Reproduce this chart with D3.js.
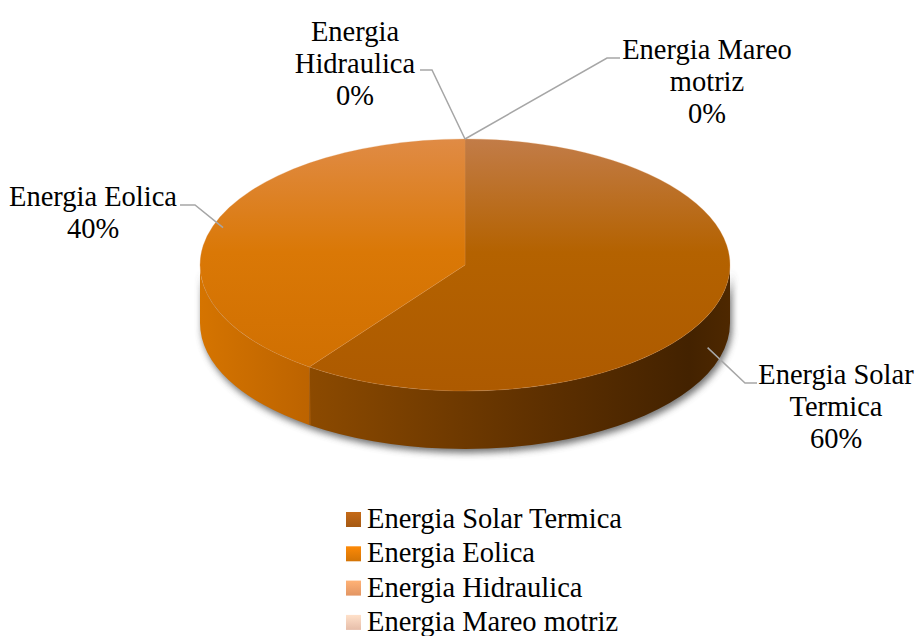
<!DOCTYPE html>
<html>
<head>
<meta charset="utf-8">
<script src="https://cdn.jsdelivr.net/npm/d3@7"></script>
<style>
  body { margin: 0; background: #fff; }
  svg { display: block; }
</style>
</head>
<body>
<svg id="chart" width="918" height="636"></svg>
<script>
// chart data
var categories = ["Energia Solar Termica", "Energia Eolica", "Energia Hidraulica", "Energia Mareo motriz"];
var values = [60, 40, 0, 0];
var legendColors = ["#AE5E14", "#DF7A06", "#EE9D68", "#F3C7B2"];

var FONT = "'Liberation Serif', 'Times New Roman', Tinos, 'DejaVu Serif', serif";
var FS = 28.5;
var cx = 465, cy = 265, rx = 265, ry = 126, depth = 58;

var svg = d3.select("#chart");
var defs = svg.append("defs");

var total = d3.sum(values);
var pct = d3.format(".0%");

// pie angles: clockwise from top, like d3
var pie = d3.pie().sort(null).value(function(d) { return d; });
var arcs = pie(values);

function pt(a, k, dy) {
  k = k || 1; dy = dy || 0;
  return [cx + rx * k * Math.sin(a), cy - ry * k * Math.cos(a) + dy];
}

// top face path for a slice
function topPath(a0, a1) {
  if (a1 - a0 <= 0) return "";
  var p0 = pt(a0), p1 = pt(a1);
  var large = (a1 - a0) > Math.PI ? 1 : 0;
  return "M" + cx + "," + cy + "L" + p0 + "A" + rx + "," + ry + " 0 " + large + " 1 " + p1 + "Z";
}

// outer side wall, only the front half (90deg..270deg) is visible
function sidePath(a0, a1) {
  var s = Math.max(a0, Math.PI / 2), e = Math.min(a1, 3 * Math.PI / 2);
  if (e <= s) return "";
  var p0 = pt(s), p1 = pt(e), q1 = pt(e, 1, depth), q0 = pt(s, 1, depth);
  return "M" + p0 + "A" + rx + "," + ry + " 0 0 1 " + p1 +
    "L" + q1 + "A" + rx + "," + ry + " 0 0 0 " + q0 + "Z";
}

// gradients
var topStops = [
  [["0", "#C27C48"], ["0.45", "#B46200"], ["1", "#AD5A00"]],
  [["0", "#E08B45"], ["0.45", "#DA7806"], ["1", "#CE6E00"]],
  [["0", "#EEA070"], ["1", "#E88A50"]],
  [["0", "#F5CDB8"], ["1", "#EFB8A0"]]
];
var sideStops = [
  [["0", "#8C4A00"], ["0.55", "#5E3000"], ["0.9", "#432200"], ["1", "#4E2800"]],
  [["0", "#D57400"], ["1", "#BC6300"]],
  [["0", "#E08A50"], ["1", "#C87040"]],
  [["0", "#E8B098"], ["1", "#D09880"]]
];

topStops.forEach(function(st, i) {
  var g = defs.append("linearGradient").attr("id", "top" + i)
    .attr("gradientUnits", "userSpaceOnUse")
    .attr("x1", 0).attr("y1", cy - ry).attr("x2", 0).attr("y2", cy + ry);
  st.forEach(function(s) { g.append("stop").attr("offset", s[0]).attr("stop-color", s[1]); });
});
sideStops.forEach(function(st, i) {
  var a = arcs[i];
  var s = Math.max(a.startAngle, Math.PI / 2), e = Math.min(a.endAngle, 3 * Math.PI / 2);
  var xa = pt(s)[0], xb = pt(e)[0];
  var g = defs.append("linearGradient").attr("id", "side" + i)
    .attr("gradientUnits", "userSpaceOnUse")
    .attr("x1", Math.min(xa, xb)).attr("y1", 0).attr("x2", Math.max(xa, xb) + 1).attr("y2", 0);
  st.forEach(function(s) { g.append("stop").attr("offset", s[0]).attr("stop-color", s[1]); });
});

var legGrad = defs.selectAll(".lg").data(legendColors).enter().append("linearGradient")
  .attr("id", function(d, i) { return "leg" + i; })
  .attr("x1", 0).attr("y1", 0).attr("x2", 0).attr("y2", 1);
legGrad.append("stop").attr("offset", 0).attr("stop-color", function(d) { return d3.color(d).brighter(0.35); });
legGrad.append("stop").attr("offset", 1).attr("stop-color", function(d) { return d3.color(d).darker(0.15); });

var shadow = defs.append("filter").attr("id", "shadow")
  .attr("x", "-10%").attr("y", "-10%").attr("width", "120%").attr("height", "130%");
shadow.append("feGaussianBlur").attr("stdDeviation", 3.5);

// shadow under the pie
svg.append("path")
  .attr("d", sidePath(Math.PI / 2, 3 * Math.PI / 2))
  .attr("transform", "translate(2,4)")
  .attr("fill", "#5a5a5a")
  .attr("opacity", 0.85)
  .attr("filter", "url(#shadow)");

var pieG = svg.append("g");

pieG.selectAll(".side").data(arcs).enter().append("path")
  .attr("class", "side")
  .attr("d", function(d) { return sidePath(d.startAngle, d.endAngle); })
  .attr("fill", function(d, i) { return "url(#side" + i + ")"; });

pieG.selectAll(".top").data(arcs).enter().append("path")
  .attr("class", "top")
  .attr("d", function(d) { return topPath(d.startAngle, d.endAngle); })
  .attr("fill", function(d, i) { return "url(#top" + i + ")"; })
  .attr("stroke", "#d99050")
  .attr("stroke-opacity", 0.35)
  .attr("stroke-width", 0.8);

// slice-edge line on the side wall
arcs.forEach(function(d) {
  if (d.startAngle > Math.PI / 2 && d.startAngle < 3 * Math.PI / 2) {
    var p = pt(d.startAngle);
    pieG.append("line")
      .attr("x1", p[0]).attr("y1", p[1]).attr("x2", p[0] + 1).attr("y2", p[1] + depth)
      .attr("stroke", "#c06a10").attr("stroke-opacity", 0.5).attr("stroke-width", 1);
  }
});

// data labels: text position, elbow, anchor style
var labelLayout = [
  { x: 836, y: 384, lines: ["Energia Solar", "Termica"], elbow: [745, 383], textEdge: 757, lineY: 383, side: true },
  { x: 93, y: 206, lines: ["Energia Eolica"], elbow: [195, 205], textEdge: 180, lineY: 205, side: false },
  { x: 355, y: 41, lines: ["Energia", "Hidraulica"], elbow: [432, 70], textEdge: 420, lineY: 70, side: false },
  { x: 707, y: 59, lines: ["Energia Mareo", "motriz"], elbow: [607, 58], textEdge: 620, lineY: 58, side: false }
];

var labelG = svg.append("g");
arcs.forEach(function(d, i) {
  var L = labelLayout[i];
  var mid = (d.startAngle + d.endAngle) / 2;
  var anchor;
  if (d.endAngle - d.startAngle === 0) anchor = pt(d.startAngle % (2 * Math.PI), 1, 0);
  else if (L.side) anchor = pt(mid + 0.1, 1, depth * 0.55);
  else anchor = pt(mid, 0.96, 0);
  labelG.append("polyline")
    .attr("points", [[L.textEdge, L.lineY], L.elbow, anchor].join(" "))
    .attr("fill", "none")
    .attr("stroke", "#A6A6A6")
    .attr("stroke-width", 1.5);
  var t = labelG.append("text")
    .attr("x", L.x).attr("y", L.y)
    .attr("text-anchor", "middle")
    .attr("font-family", FONT)
    .attr("fill", "#000")
    .attr("font-size", FS);
  L.lines.concat([pct(values[i] / total)]).forEach(function(s, j) {
    t.append("tspan").attr("x", L.x).attr("dy", j === 0 ? 0 : 32).text(s);
  });
});

// legend
var leg = svg.append("g").attr("transform", "translate(346,512)");
var items = leg.selectAll("g").data(categories).enter().append("g")
  .attr("transform", function(d, i) { return "translate(0," + (i * 34.3) + ")"; });
items.append("rect")
  .attr("width", 15).attr("height", 15)
  .attr("fill", function(d, i) { return "url(#leg" + i + ")"; });
items.append("text")
  .attr("x", 21).attr("y", 16)
  .attr("font-family", FONT)
  .attr("fill", "#000")
  .attr("font-size", FS)
  .text(function(d) { return d; });
</script>
</body>
</html>
